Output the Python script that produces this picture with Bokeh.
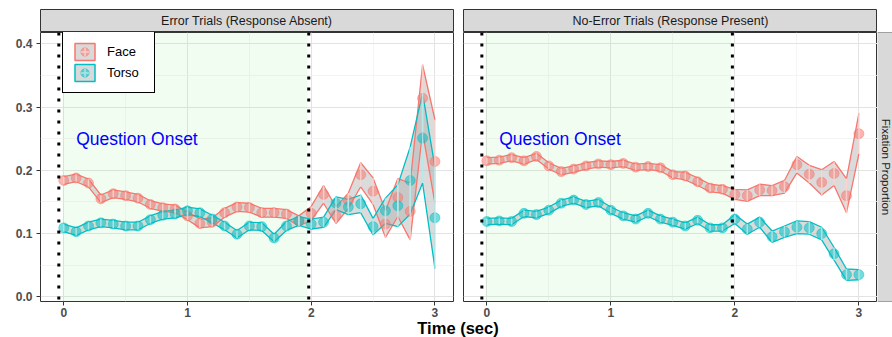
import math
from bokeh.plotting import figure
from bokeh.models import (Range1d, FixedTicker, Span, Legend, LegendItem, Label,
                          BoxAnnotation, NumeralTickFormatter, Spacer, ColumnDataSource)
from bokeh.layouts import row, column
from bokeh.embed import file_html
from bokeh.resources import INLINE
from bokeh.core.properties import value

# ---------------- data ----------------
time_sec = [0.0, 0.1, 0.2, 0.3, 0.4, 0.5, 0.6, 0.7, 0.8, 0.9, 1.0,
            1.1, 1.2, 1.3, 1.4, 1.5, 1.6, 1.7, 1.8, 1.9, 2.0,
            2.1, 2.2, 2.3, 2.4, 2.5, 2.6, 2.7, 2.8, 2.9, 3.0]

err_face_mean = [0.184, 0.188, 0.180, 0.155, 0.163, 0.160, 0.156, 0.146, 0.141, 0.139, 0.128,
                 0.116, 0.118, 0.133, 0.142, 0.141, 0.133, 0.133, 0.131, 0.120, 0.132,
                 0.162, 0.129, 0.152, 0.193, 0.167, 0.115, 0.157, 0.135, 0.314, 0.214]
err_face_se = [0.006, 0.006, 0.006, 0.006, 0.006, 0.006, 0.006, 0.006, 0.006, 0.006, 0.006,
               0.007, 0.007, 0.007, 0.007, 0.007, 0.007, 0.007, 0.007, 0.008, 0.011,
               0.014, 0.013, 0.012, 0.019, 0.021, 0.021, 0.030, 0.045, 0.053, 0.066]
err_torso_mean = [0.109, 0.103, 0.112, 0.117, 0.115, 0.112, 0.112, 0.122, 0.129, 0.131, 0.136,
                  0.133, 0.123, 0.112, 0.099, 0.112, 0.111, 0.093, 0.112, 0.120, 0.115,
                  0.118, 0.148, 0.142, 0.147, 0.111, 0.136, 0.144, 0.184, 0.251, 0.125]
err_torso_se = [0.006, 0.006, 0.006, 0.006, 0.006, 0.006, 0.006, 0.006, 0.006, 0.006, 0.006,
                0.006, 0.006, 0.006, 0.006, 0.006, 0.006, 0.006, 0.007, 0.007, 0.008,
                0.008, 0.010, 0.012, 0.014, 0.013, 0.020, 0.033, 0.053, 0.071, 0.080]

noerr_face_mean = [0.215, 0.216, 0.220, 0.215, 0.222, 0.207, 0.198, 0.202, 0.207, 0.210, 0.209,
                   0.211, 0.205, 0.206, 0.204, 0.193, 0.191, 0.182, 0.172, 0.170, 0.162,
                   0.160, 0.169, 0.168, 0.174, 0.209, 0.194, 0.181, 0.195, 0.160, 0.258]
noerr_face_se = [0.005, 0.005, 0.005, 0.005, 0.005, 0.005, 0.005, 0.005, 0.005, 0.005, 0.005,
                 0.005, 0.005, 0.005, 0.005, 0.005, 0.006, 0.006, 0.006, 0.006, 0.008,
                 0.009, 0.009, 0.008, 0.010, 0.013, 0.014, 0.020, 0.019, 0.027, 0.032]
noerr_torso_mean = [0.119, 0.120, 0.119, 0.132, 0.130, 0.137, 0.148, 0.153, 0.146, 0.149, 0.137,
                    0.128, 0.123, 0.132, 0.123, 0.118, 0.112, 0.121, 0.109, 0.109, 0.123,
                    0.107, 0.118, 0.095, 0.103, 0.110, 0.109, 0.100, 0.068, 0.035, 0.035]
noerr_torso_se = [0.005, 0.005, 0.005, 0.005, 0.005, 0.005, 0.005, 0.005, 0.005, 0.005, 0.005,
                  0.005, 0.005, 0.005, 0.005, 0.005, 0.005, 0.005, 0.005, 0.005, 0.007,
                  0.008, 0.008, 0.009, 0.009, 0.010, 0.010, 0.010, 0.010, 0.009, 0.008]

panel_titles = ["Error Trials (Response Absent)", "No-Error Trials (Response Present)"]
series_names = ["Face", "Torso"]
x_ticks = [0, 1, 2, 3]
x_minor = [0.5, 1.5, 2.5]
y_ticks = [0.0, 0.1, 0.2, 0.3, 0.4]
y_minor = [0.05, 0.15, 0.25, 0.35]
onset_window = [-0.01, 1.97]
onset_markers = [-0.04, 1.98]
note_text = "Question Onset"
note_pos = [0.1, 0.25]
x_title = "Time (sec)"
y_title = "Fixation Proportion"

# ---------------- style / layout ----------------
FONT = "Liberation Sans"
COLORS = ["#F8766D", "#00BFC4"]
LIGHT = ["#fcd3cf", "#b0ebed"]
BORDER = "#333333"
STRIP = "#d9d9d9"
XR = (-0.188, 3.15)
YR = (-0.0074, 0.418)

STRIP_TOP = 9
FRAME_TOP = 32
FRAME_H = 269
BOTTOM = 20
PANEL_H = FRAME_H + BOTTOM
OVERLAP = 6
TITLE_H = 337 - FRAME_TOP - PANEL_H + OVERLAP
W1, BL1, BR1 = 458, 40, 5
W2, BL2, BR2 = 419, 5, 0
W3 = 15


def make_panel(means, ses, border_left, border_right, width, show_y, legend):
    p = figure(width=width, height=PANEL_H, x_range=Range1d(*XR), y_range=Range1d(*YR),
               output_backend="svg", toolbar_location=None,
               min_border_left=border_left, min_border_right=border_right,
               min_border_top=0, min_border_bottom=BOTTOM,
               y_axis_location="left" if show_y else None)
    p.outline_line_color = BORDER
    p.outline_line_width = 1
    p.background_fill_color = "white"
    p.xgrid.ticker = FixedTicker(ticks=x_ticks, minor_ticks=x_minor)
    p.ygrid.ticker = FixedTicker(ticks=y_ticks, minor_ticks=y_minor)
    p.grid.grid_line_color = "#e3e3e3"
    p.grid.grid_line_width = 1
    p.grid.minor_grid_line_color = "#f1f1f1"
    p.grid.minor_grid_line_width = 0.8

    p.add_layout(BoxAnnotation(left=onset_window[0], right=onset_window[1],
                               fill_color="lightgreen", fill_alpha=0.12,
                               line_color=None, level="underlay"))

    srcs = []
    for m, s in zip(means, ses):
        srcs.append(ColumnDataSource(dict(t=time_sec, m=m,
                                          lo=[a - b for a, b in zip(m, s)],
                                          hi=[a + b for a, b in zip(m, s)])))
    for src in srcs:
        p.varea(x="t", y1="lo", y2="hi", source=src, fill_color="#b0b0b0", fill_alpha=0.45)
    for src, c in zip(srcs, COLORS):
        p.line("t", "hi", source=src, line_color=c, line_width=1.3)
        p.line("t", "lo", source=src, line_color=c, line_width=1.3)
    pts = []
    for src, c in zip(srcs, COLORS):
        pts.append(p.scatter("t", "m", source=src, size=10, fill_color=c, fill_alpha=0.55,
                             line_color=c, line_alpha=0.45))
    for src, lc in zip(srcs, LIGHT):
        p.segment(x0="t", y0="lo", x1="t", y1="hi", source=src,
                  line_color=lc, line_alpha=0.85, line_width=1.5)

    for loc in onset_markers:
        p.add_layout(Span(location=loc, dimension="height", line_color="black",
                          line_width=3, line_dash="3 8"))

    p.add_layout(Label(x=note_pos[0], y=note_pos[1], text=note_text, text_color="blue",
                       text_font=FONT, text_font_size="17.5px", text_baseline="middle"))

    p.xaxis.ticker = FixedTicker(ticks=x_ticks)
    axes = [p.xaxis[0]] + ([p.yaxis[0]] if show_y else [])
    for ax in axes:
        ax.axis_line_color = None
        ax.major_tick_line_color = BORDER
        ax.major_tick_out = 4
        ax.major_tick_in = 0
        ax.minor_tick_line_color = None
        ax.major_label_text_font = FONT
        ax.major_label_text_font_size = "12px"
        ax.major_label_text_font_style = "bold"
        ax.major_label_text_color = "#4d4d4d"
        ax.major_label_standoff = 2
    if show_y:
        p.yaxis.ticker = FixedTicker(ticks=y_ticks)
        p.yaxis.formatter = NumeralTickFormatter(format="0.0")
        p.yaxis.major_label_standoff = 4

    if legend:
        items = []
        for name, c, lc, src, pt in zip(series_names, COLORS, LIGHT, srcs, pts):
            kq = p.rect(x="t", y="m", width=0.1, height=0.01, source=src,
                        fill_color="#d0d0d0", fill_alpha=0.8, line_color=c,
                        line_width=1.5, visible=False)
            kx = p.scatter(x="t", y="m", source=src, marker="cross", size=21,
                           line_color=lc, line_width=1.5, line_alpha=0.9, visible=False)
            items.append(LegendItem(label=name, renderers=[kq, pt, kx]))
        lg = Legend(items=items, location=(22, FRAME_H - 1 - 60), padding=9, spacing=0,
                    glyph_width=25, glyph_height=21, label_standoff=10, label_width=38,
                    margin=0, border_line_color="black", border_line_width=1,
                    border_line_alpha=1, background_fill_alpha=1,
                    inactive_fill_alpha=0, click_policy="none",
                    label_text_font=FONT, label_text_font_size="13px",
                    label_text_color="black")
        p.add_layout(lg)
    return p


def make_strip(text, border_left, border_right, width):
    s = figure(width=width, height=FRAME_TOP, x_range=Range1d(0, 1), y_range=Range1d(0, 1),
               output_backend="svg", toolbar_location=None,
               min_border_left=border_left, min_border_right=border_right,
               min_border_top=STRIP_TOP, min_border_bottom=0,
               x_axis_location=None, y_axis_location=None)
    s.xgrid.visible = False
    s.ygrid.visible = False
    s.background_fill_color = STRIP
    s.outline_line_color = BORDER
    s.text(x=[0.5], y=[0.5], text=[text], text_align="center", text_baseline="middle",
           text_font=value(FONT), text_font_size="12.5px", text_color="#1a1a1a")
    return s


p1 = make_panel([err_face_mean, err_torso_mean], [err_face_se, err_torso_se],
                BL1, BR1, W1, True, True)
p2 = make_panel([noerr_face_mean, noerr_torso_mean], [noerr_face_se, noerr_torso_se],
                BL2, BR2, W2, False, False)

s1 = make_strip(panel_titles[0], BL1, BR1, W1)
s2 = make_strip(panel_titles[1], BL2, BR2, W2)

p3 = figure(width=W3, height=PANEL_H, x_range=Range1d(0, W3), y_range=Range1d(0, 1),
            output_backend="svg", toolbar_location=None,
            min_border_left=0, min_border_right=0, min_border_top=0, min_border_bottom=BOTTOM,
            x_axis_location=None, y_axis_location=None)
p3.xgrid.visible = False
p3.ygrid.visible = False
p3.background_fill_color = STRIP
p3.outline_line_color = None
p3.add_layout(Span(location=1, dimension="width", line_color="#555555", line_width=1))
p3.add_layout(Span(location=0, dimension="width", line_color="#555555", line_width=1))
p3.text(x=[8], y=[0.5], text=[y_title], angle=-math.pi / 2, text_align="center",
        text_baseline="middle", text_font=value(FONT), text_font_size="11.5px",
        text_color="#1a1a1a")

# bottom strip holding the shared x-axis title (slightly overlapping the axis area)
tw = W1 + W2 + W3
t = figure(width=tw, height=TITLE_H, x_range=Range1d(0, tw), y_range=Range1d(0, TITLE_H),
           output_backend="svg", toolbar_location=None,
           min_border_left=0, min_border_right=0, min_border_top=0, min_border_bottom=0,
           x_axis_location=None, y_axis_location=None)
t.xgrid.visible = False
t.ygrid.visible = False
t.outline_line_color = None
t.background_fill_alpha = 0
t.border_fill_alpha = 0
t.margin = (-OVERLAP, 0, 0, 0)
t.add_layout(Label(x=457.5, y=10, text=x_title, text_font=FONT, text_font_size="16.5px",
                   text_font_style="bold", text_color="black",
                   text_align="center", text_baseline="middle"))

layout = column(row(s1, s2, Spacer(width=W3, height=FRAME_TOP)), row(p1, p2, p3), t)
open("out.html", "w").write(file_html(layout, INLINE))
